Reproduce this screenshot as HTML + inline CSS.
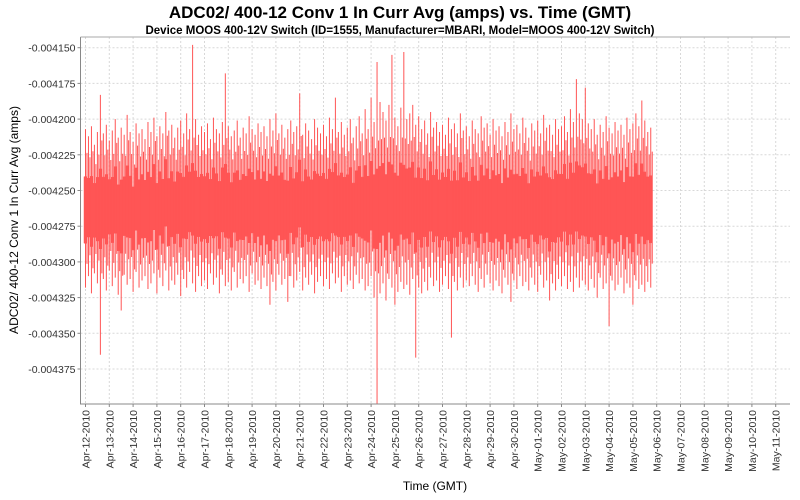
<!DOCTYPE html>
<html><head><meta charset="utf-8"><style>
body{margin:0;background:#fff;}
svg{display:block;font-family:"Liberation Sans","DejaVu Sans",sans-serif;}
</style></head><body>
<svg id="chart" width="800" height="500" xmlns="http://www.w3.org/2000/svg">
<rect width="800" height="500" fill="#fff"/>
<text x="400" y="18" text-anchor="middle" font-size="17" font-weight="bold" fill="#000">ADC02/ 400-12 Conv 1 In Curr Avg (amps) vs. Time (GMT)</text>
<text x="400" y="34" text-anchor="middle" font-size="11.5" font-weight="bold" fill="#000">Device MOOS 400-12V Switch (ID=1555, Manufacturer=MBARI, Model=MOOS 400-12V Switch)</text>
<text transform="translate(18,220) rotate(-90)" text-anchor="middle" font-size="12" fill="#000">ADC02/ 400-12 Conv 1 In Curr Avg (amps)</text>
<text x="435" y="490" text-anchor="middle" font-size="12" fill="#000">Time (GMT)</text>
<g id="grid"></g>
<g id="series"></g>
<g id="axes"></g>
</svg>
<script>
// values in microamps (µA)
const yTicks = [-4150,-4175,-4200,-4225,-4250,-4275,-4300,-4325,-4350,-4375];
const yTickLabels = ["-0.004150","-0.004175","-0.004200","-0.004225","-0.004250","-0.004275","-0.004300","-0.004325","-0.004350","-0.004375"];
const xTickLabels = ["Apr-12-2010","Apr-13-2010","Apr-14-2010","Apr-15-2010","Apr-16-2010","Apr-17-2010","Apr-18-2010","Apr-19-2010","Apr-20-2010","Apr-21-2010","Apr-22-2010","Apr-23-2010","Apr-24-2010","Apr-25-2010","Apr-26-2010","Apr-27-2010","Apr-28-2010","Apr-29-2010","Apr-30-2010","May-01-2010","May-02-2010","May-03-2010","May-04-2010","May-05-2010","May-06-2010","May-07-2010","May-08-2010","May-09-2010","May-10-2010","May-11-2010"];
const binDays = 0.125;
const hiVals = [-4207,-4212,-4205,-4218,-4209,-4183,-4210,-4204,-4215,-4208,
-4200,-4213,-4206,-4211,-4197,-4209,-4216,-4203,-4210,-4207,
-4214,-4202,-4209,-4199,-4212,-4205,-4210,-4195,-4208,-4204,
-4213,-4206,-4201,-4210,-4196,-4207,-4148,-4200,-4211,-4205,
-4209,-4203,-4214,-4199,-4207,-4210,-4202,-4168,-4205,-4212,
-4208,-4201,-4213,-4206,-4210,-4198,-4207,-4211,-4203,-4209,
-4205,-4212,-4200,-4208,-4196,-4210,-4204,-4213,-4207,-4201,
-4209,-4205,-4182,-4211,-4203,-4208,-4214,-4200,-4206,-4210,
-4204,-4212,-4199,-4207,-4185,-4209,-4202,-4211,-4206,-4200,
-4213,-4205,-4198,-4210,-4193,-4207,-4185,-4202,-4160,-4188,
-4195,-4201,-4190,-4155,-4199,-4205,-4192,-4153,-4200,-4196,
-4190,-4204,-4198,-4207,-4201,-4210,-4195,-4206,-4202,-4209,
-4204,-4211,-4199,-4207,-4203,-4210,-4196,-4208,-4205,-4212,
-4201,-4207,-4210,-4198,-4206,-4203,-4211,-4200,-4208,-4205,
-4212,-4202,-4209,-4196,-4207,-4204,-4210,-4199,-4206,-4213,
-4203,-4208,-4201,-4210,-4197,-4206,-4204,-4211,-4200,-4207,
-4205,-4198,-4209,-4193,-4202,-4172,-4196,-4200,-4178,-4203,
-4207,-4200,-4211,-4204,-4209,-4198,-4206,-4210,-4202,-4208,
-4204,-4211,-4199,-4207,-4203,-4196,-4205,-4187,-4201,-4209,
-4206];
const loVals = [-4318,-4310,-4322,-4308,-4315,-4365,-4312,-4320,-4306,-4317,
-4311,-4323,-4334,-4309,-4316,-4312,-4321,-4307,-4318,-4313,
-4310,-4319,-4315,-4308,-4322,-4311,-4317,-4306,-4320,-4313,
-4316,-4309,-4324,-4312,-4318,-4307,-4315,-4321,-4310,-4317,
-4313,-4319,-4308,-4316,-4311,-4322,-4309,-4317,-4314,-4320,
-4307,-4318,-4312,-4315,-4310,-4321,-4308,-4316,-4313,-4319,
-4311,-4317,-4330,-4314,-4320,-4309,-4316,-4312,-4328,-4310,
-4318,-4313,-4307,-4320,-4311,-4316,-4309,-4322,-4314,-4310,
-4317,-4312,-4319,-4308,-4315,-4311,-4321,-4310,-4316,-4313,
-4319,-4309,-4315,-4312,-4320,-4317,-4310,-4325,-4400,-4322,
-4315,-4327,-4312,-4318,-4330,-4321,-4314,-4319,-4316,-4323,
-4312,-4367,-4318,-4322,-4314,-4320,-4311,-4317,-4313,-4321,
-4316,-4310,-4319,-4353,-4314,-4320,-4311,-4318,-4313,-4317,
-4310,-4316,-4321,-4312,-4318,-4309,-4315,-4320,-4313,-4317,
-4322,-4311,-4316,-4328,-4313,-4319,-4310,-4317,-4314,-4320,
-4311,-4316,-4321,-4309,-4318,-4313,-4327,-4315,-4320,-4312,
-4317,-4310,-4319,-4314,-4321,-4311,-4318,-4313,-4316,-4320,
-4312,-4318,-4325,-4311,-4319,-4315,-4345,-4313,-4320,-4316,
-4311,-4322,-4315,-4318,-4330,-4313,-4319,-4316,-4321,-4314,
-4318];

const NS="http://www.w3.org/2000/svg";
const L=80.5,R=790,T=37,B=404;
const x0=85.5, pxPerDay=23.8;
const xs=d=>x0+d*pxPerDay;
const ys=v=>47.7+(v-(-4150))/(-25)*35.7;
const clamp=(v,a,b)=>Math.min(b,Math.max(a,v));
function mk(tag,attrs,parent){const e=document.createElementNS(NS,tag);for(const k in attrs)e.setAttribute(k,attrs[k]);parent.appendChild(e);return e;}
const grid=document.getElementById('grid'),axes=document.getElementById('axes'),series=document.getElementById('series');
mk('rect',{x:L,y:T,width:R-L,height:B-T,fill:'#fff'},grid);
yTicks.forEach((v,i)=>{
  const y=ys(v);
  const g=mk('line',{x1:L,x2:R,y1:y,y2:y,stroke:'#d8d8d8','stroke-dasharray':'2,2','stroke-width':1},grid);
  
  
  mk('line',{x1:L-3,x2:L,y1:y,y2:y,stroke:'#888'},axes);
  const t=mk('text',{x:L-5,y:y+4,'text-anchor':'end','font-size':10.5,fill:'#333'},axes);
  
  
  t.textContent=yTickLabels[i];
});
xTickLabels.forEach((lab,i)=>{
  const x=xs(i);
  const g=mk('line',{x1:x,x2:x,y1:T,y2:B,stroke:'#d8d8d8','stroke-dasharray':'2,2','stroke-width':1},grid);
  
  
  mk('line',{x1:x,x2:x,y1:B,y2:B+3,stroke:'#888'},axes);
  const t=mk('text',{transform:`translate(${x+4},${B+6}) rotate(-90)`,'text-anchor':'end','font-size':10.5,fill:'#333'},axes);
  
  
  t.textContent=lab;
});
const half=binDays/2*pxPerDay;
let d1='';
hiVals.forEach((h,i)=>{
  const x=xs(i*binDays), lo=loVals[i];
  const hc=clamp(h,-4220,-4195), lc=clamp(lo,-4328,-4305);
  d1+=`M${x.toFixed(2)},${Math.max(T,ys(h)).toFixed(2)}V${Math.min(B,ys(lo)).toFixed(2)}`;
  d1+=`M${(x+half).toFixed(2)},${ys(hc+(lc-hc)*0.15).toFixed(2)}V${ys(hc+(lc-hc)*0.85).toFixed(2)}`;
});
const p1=mk('path',{d:d1,fill:'none',stroke:'#ff5555','stroke-width':1.0},series);


let d2='';
hiVals.forEach((h,i)=>{
  const x=xs(i*binDays), lo=loVals[i];
  const hc=clamp(h,-4220,-4195), lc=clamp(lo,-4328,-4305);
  d2+=`M${(x-half).toFixed(2)},${ys(hc+(lc-hc)*0.3).toFixed(2)}H${(x+half).toFixed(2)}V${ys(hc+(lc-hc)*0.72).toFixed(2)}H${(x-half).toFixed(2)}Z`;
});
const p2=mk('path',{d:d2,fill:'#ff5555',stroke:'#ff5555','stroke-width':0.5},series);


const ax=mk('path',{d:`M${L},${T}V${B}H${R}`,fill:'none',stroke:'#888'},axes);


mk('line',{x1:L,x2:R,y1:T,y2:T,stroke:'#aaa'},axes);
</script>
</body></html>
